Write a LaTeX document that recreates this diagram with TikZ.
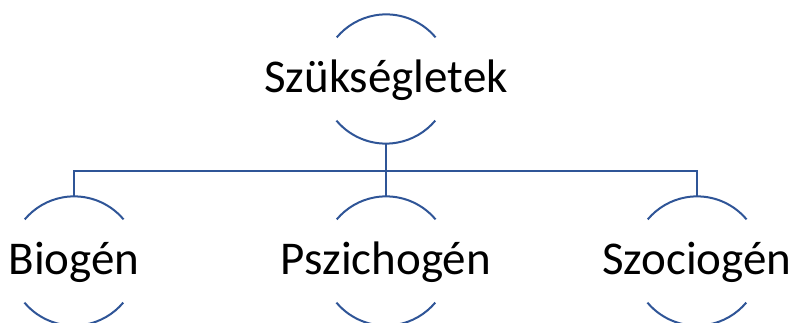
\documentclass[tikz,border=0pt]{standalone}
\usepackage{fontspec}
\setmainfont{Carlito}
\definecolor{linec}{RGB}{47,85,151}
\begin{document}
\begin{tikzpicture}[x=1pt,y=1pt,
  ring/.style={circle,minimum size=129pt,inner sep=0pt,draw=none},
  lbl/.style={anchor=base,font=\fontsize{47}{50}\selectfont,inner sep=0pt},
  ln/.style={draw=linec,line width=2pt}]
\useasboundingbox (0,0) rectangle (796,323);
\node[ring] (top) at (386,244) {};
\node[ring] (b1) at (74,62) {};
\node[ring] (b2) at (386,62) {};
\node[ring] (b3) at (697,62) {};
\foreach \n in {top,b1,b2,b3}{
  \draw[ln] (\n.40) arc[start angle=40,end angle=140,radius=64.5pt];
  \draw[ln] (\n.220) arc[start angle=220,end angle=320,radius=64.5pt];
}
\node[lbl] (t0) at (386,230) {Szükségletek};
\node[lbl] (t1) at (74,48) {Biogén};
\node[lbl] (t2) at (386,48) {Pszichogén};
\node[lbl] (t3) at (697,48) {Szociogén};
\coordinate (bar) at (386,152);
\draw[ln] (top.south) -- (b2.north);
\draw[ln] (b1.north) -- (b1.north |- bar) -- (b3.north |- bar) -- (b3.north);
\end{tikzpicture}
\end{document}
